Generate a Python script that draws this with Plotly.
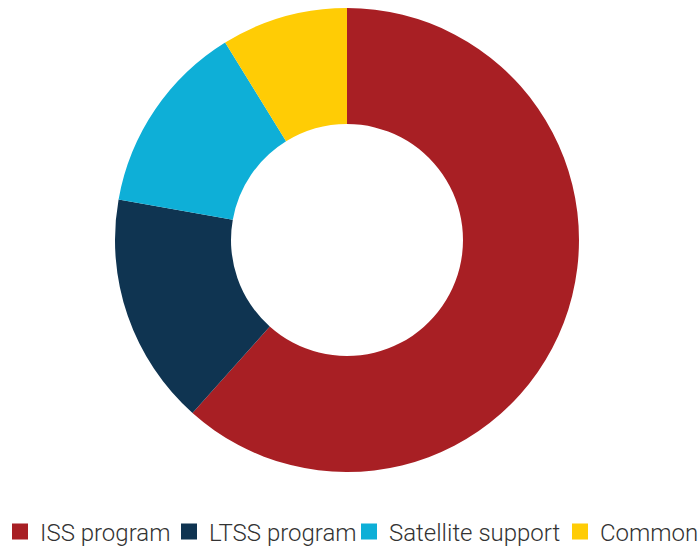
import plotly.graph_objects as go

# Budget share by activity
categories = ["ISS program", "LTSS program", "Satellite support", "Common"]
shares = [61.6, 16.2, 13.4, 8.8]
colors = ["#A81F24", "#0F3451", "#0EAFD7", "#FFCC05"]
# width reserved for each legend entry's label (px)
entry_widths = [124, 135, 166, 96]

fig = go.Figure()

fig.add_trace(
    go.Pie(
        labels=categories,
        values=shares,
        hole=0.5,
        sort=False,
        direction="clockwise",
        rotation=0,
        domain=dict(x=[0, 694 / 700], y=[0, 1]),
        marker=dict(colors=colors, line=dict(width=0)),
        textinfo="none",
        hoverinfo="label+percent",
        showlegend=False,
    )
)

# Legend keys: larger square swatches than the pie's built-in legend symbols
for name, col, lw in zip(categories, colors, entry_widths):
    fig.add_trace(
        go.Scatter(
            x=[None],
            y=[None],
            mode="markers",
            name=name,
            legendwidth=lw,
            marker=dict(symbol="square", size=17, color=col, line=dict(width=0)),
            hoverinfo="skip",
        )
    )

fig.update_layout(
    width=700,
    height=548,
    margin=dict(l=0, r=0, t=8, b=76, autoexpand=False),
    paper_bgcolor="white",
    plot_bgcolor="white",
    xaxis=dict(visible=False),
    yaxis=dict(visible=False),
    font=dict(family="Roboto", size=24, color="#333333"),
    showlegend=True,
    legend=dict(
        orientation="h",
        x=0,
        xanchor="left",
        y=-0.129,
        yanchor="middle",
        font=dict(family="Roboto", size=24, color="#333333", weight=300),
        itemclick=False,
        itemdoubleclick=False,
    ),
)

fig.write_html("out.html")
